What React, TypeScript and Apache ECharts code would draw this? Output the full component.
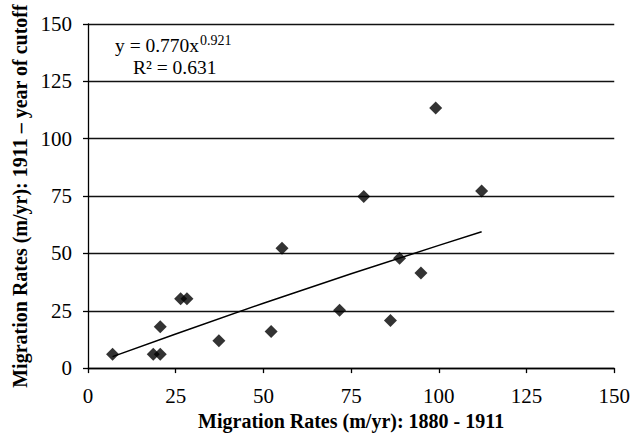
import React, { useEffect, useRef } from "react";
import * as echarts from "echarts";

const xTicks = [0, 25, 50, 75, 100, 125, 150];
const rate1880to1911 = [7, 18.6, 20.6, 20.6, 26.4, 28.2, 37.3, 52.2, 55.3, 71.7, 78.6, 86.2, 88.8, 94.9, 99.1, 112.2];
const rate1911toCutoff = [6, 6, 6, 18, 30.2, 30.2, 11.9, 16, 52.2, 25.2, 74.8, 20.8, 47.9, 41.5, 113.4, 77.2];
const trendX = [7, 25, 50, 75, 100, 112.2];
const trendY = [5, 14.9, 28.3, 41.1, 53.5, 59.4];
const equationMain = "y = 0.770x";
const equationExp = "0.921";
const rSquared = "R² = 0.631";
const xTitle = "Migration Rates (m/yr): 1880 - 1911";
const yTitle = "Migration Rates (m/yr): 1911 – year of cutoff";

const FONT = "'Liberation Serif', 'Times New Roman', serif";

export default function App() {
  const ref = useRef<HTMLDivElement>(null);
  useEffect(() => {
    document.body.style.margin = "0";
    const chart = echarts.init(ref.current!, undefined, { renderer: "svg" });
    const points = rate1880to1911.map((x, i) => [x, rate1911toCutoff[i]]);
    const trend = trendX.map((x, i) => [x, trendY[i]]);
    chart.setOption({
      animation: false,
      backgroundColor: "#fff",
      grid: { left: 88, right: 17, top: 24, bottom: 66 },
      xAxis: {
        type: "value",
        min: xTicks[0],
        max: xTicks[xTicks.length - 1],
        interval: 25,
        name: xTitle,
        nameLocation: "middle",
        nameGap: 42,
        nameTextStyle: { fontFamily: FONT, fontWeight: "bold", fontSize: 20, color: "#000" },
        axisLine: { show: true, lineStyle: { color: "#000", width: 1.3 } },
        axisTick: { show: true, length: 5, lineStyle: { color: "#000", width: 1.3 } },
        axisLabel: { fontFamily: FONT, fontSize: 21, color: "#000", margin: 17 },
        splitLine: { show: false },
      },
      yAxis: {
        type: "value",
        min: 0,
        max: 150,
        interval: 25,
        name: yTitle,
        nameLocation: "middle",
        nameGap: 58,
        nameTextStyle: { fontFamily: FONT, fontWeight: "bold", fontSize: 20, color: "#000" },
        axisLine: { show: true, lineStyle: { color: "#000", width: 1.3 } },
        axisTick: { show: true, length: 5, lineStyle: { color: "#000", width: 1.3 } },
        axisLabel: { fontFamily: FONT, fontSize: 21, color: "#000", margin: 16 },
        splitLine: { show: true, lineStyle: { color: "#111", width: 1.3 } },
      },
      graphic: [
        {
          type: "text",
          left: 115,
          top: 33,
          style: {
            text: `{a|${equationMain}}{b|${equationExp}}`,
            rich: {
              a: { fontFamily: FONT, fontSize: 19.5, color: "#000", lineHeight: 24 },
              b: { fontFamily: FONT, fontSize: 14, color: "#000", verticalAlign: "top", lineHeight: 24, padding: [0, 0, 0, 1] },
            },
          },
        },
        {
          type: "text",
          left: 133,
          top: 57,
          style: { text: rSquared, fontFamily: FONT, fontSize: 19.5, fill: "#000" },
        },
      ],
      series: [
        {
          type: "line",
          data: trend,
          showSymbol: false,
          symbol: "none",
          lineStyle: { color: "#000", width: 1.5 },
          z: 2,
        },
        {
          type: "scatter",
          data: points,
          symbol: "diamond",
          symbolSize: 13,
          itemStyle: { color: "#000" },
          z: 3,
        },
      ],
    });
    return () => chart.dispose();
  }, []);
  return <div ref={ref} style={{ width: 633, height: 436 }} />;
}
